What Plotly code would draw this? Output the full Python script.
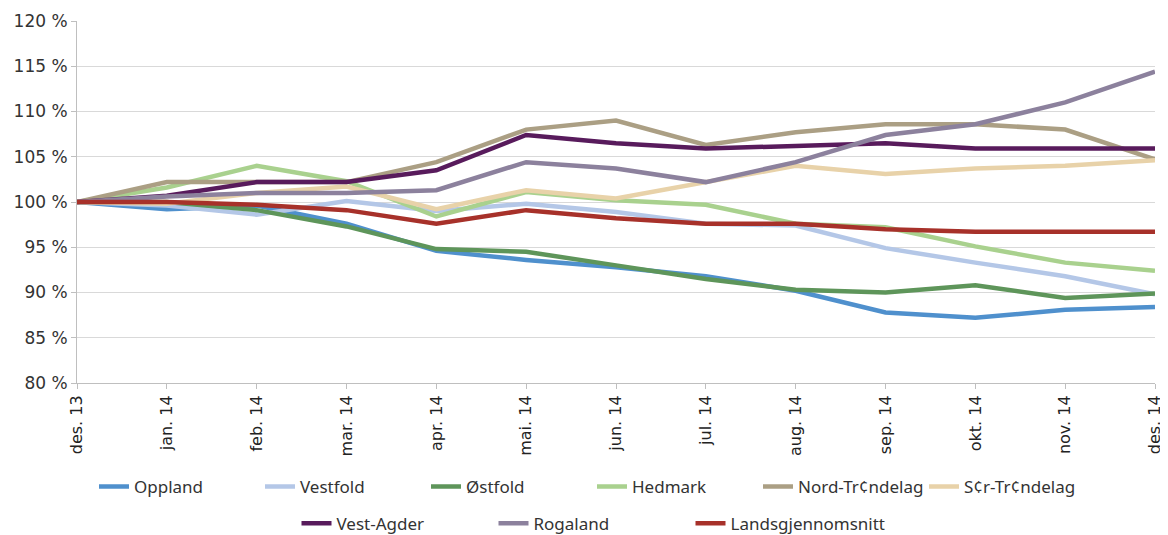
import plotly.graph_objects as go

months = ["des. 13", "jan. 14", "feb. 14", "mar. 14", "apr. 14", "mai. 14", "jun. 14",
          "jul. 14", "aug. 14", "sep. 14", "okt. 14", "nov. 14", "des. 14"]

oppland = [100, 99.2, 99.6, 97.6, 94.6, 93.6, 92.8, 91.8, 90.2, 87.8, 87.2, 88.1, 88.4]
vestfold = [100, 99.6, 98.6, 100.1, 99.0, 99.8, 98.9, 97.6, 97.4, 94.9, 93.3, 91.8, 89.8]
ostfold = [100, 100.0, 99.1, 97.3, 94.8, 94.5, 93.0, 91.5, 90.3, 90.0, 90.8, 89.4, 89.9]
hedmark = [100, 101.6, 104.0, 102.3, 98.4, 101.1, 100.2, 99.7, 97.6, 97.2, 95.1, 93.3, 92.4]
nord_trondelag = [100, 102.2, 102.2, 102.2, 104.4, 108.0, 109.0, 106.3, 107.7, 108.6, 108.6, 108.0, 104.7]
sor_trondelag = [100, 99.8, 101.0, 101.7, 99.2, 101.3, 100.4, 102.2, 104.0, 103.1, 103.7, 104.0, 104.6]
vest_agder = [100, 100.7, 102.2, 102.2, 103.5, 107.4, 106.5, 105.9, 106.2, 106.5, 105.9, 105.9, 105.9]
rogaland = [100, 100.6, 101.0, 101.0, 101.3, 104.4, 103.7, 102.2, 104.4, 107.4, 108.6, 111.0, 114.4]
landsgjennomsnitt = [100, 100.0, 99.7, 99.1, 97.6, 99.1, 98.2, 97.6, 97.6, 97.0, 96.7, 96.7, 96.7]

series = [
    ("Oppland", oppland, "#4f90cd", "legend"),
    ("Vestfold", vestfold, "#b4c7e7", "legend"),
    ("Østfold", ostfold, "#5e955a", "legend"),
    ("Hedmark", hedmark, "#a9d18e", "legend"),
    ("Nord-Tr¢ndelag", nord_trondelag, "#ab9f84", "legend"),
    ("S¢r-Tr¢ndelag", sor_trondelag, "#e8d2a9", "legend"),
    ("Vest-Agder", vest_agder, "#581b5c", "legend2"),
    ("Rogaland", rogaland, "#8c819d", "legend2"),
    ("Landsgjennomsnitt", landsgjennomsnitt, "#a7312a", "legend2"),
]

fig = go.Figure()
for name, vals, color, leg in series:
    fig.add_trace(go.Scatter(x=months, y=vals, name=name, mode="lines",
                             line=dict(color=color, width=4.5), legend=leg))

# the page body adds an 8px offset, so margins are trimmed to land the plot where the reference has it
font = "Noto Sans, Open Sans, sans-serif"
fig.update_layout(
    width=1168, height=535,
    margin=dict(l=69, r=21, t=13, b=160),
    plot_bgcolor="white", paper_bgcolor="white",
    font=dict(family=font, size=15, color="#333333"),
    legend=dict(orientation="h", xref="container", yref="container",
                x=0.5, xanchor="center", y=0.105, yanchor="middle",
                font=dict(size=17), entrywidth=121, traceorder="normal"),
    legend2=dict(orientation="h", xref="container", yref="container",
                 x=0.5, xanchor="center", y=0.036, yanchor="middle",
                 font=dict(size=17), entrywidth=152, traceorder="normal"),
)
fig.update_xaxes(type="category", range=[0, 12], tickangle=-90, automargin=False,
                 showgrid=False, showline=True, linecolor="#bfbfbf",
                 ticks="outside", ticklen=5, tickcolor="#bfbfbf",
                 tickfont=dict(family="DejaVu Sans", size=16, color="#222222"))
fig.update_yaxes(range=[80, 120], dtick=5, ticksuffix=" %", automargin=False,
                 showgrid=True, gridcolor="#d9d9d9", gridwidth=1,
                 showline=True, linecolor="#bfbfbf",
                 ticks="outside", ticklen=5, tickcolor="#bfbfbf",
                 tickfont=dict(family="DejaVu Sans", size=17, color="#333333"),
                 zeroline=False)

fig.write_html("out.html")
